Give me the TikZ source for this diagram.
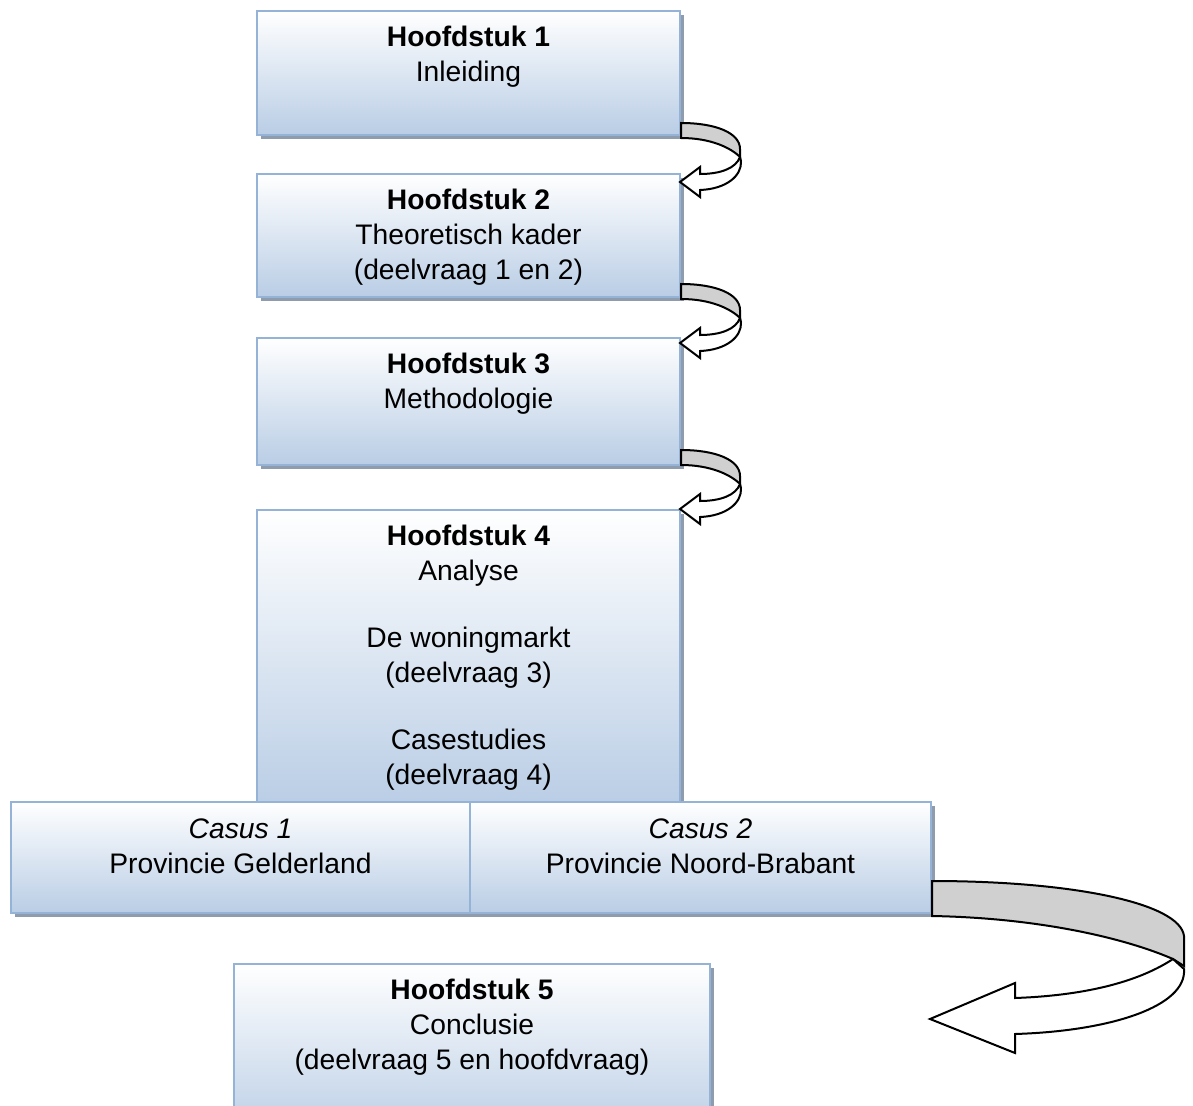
\documentclass[tikz,border=0pt]{standalone}
\usepackage{fontspec}
\setmainfont{Liberation Sans}
\usepackage{tikz}
\usetikzlibrary{shadows}

\definecolor{boxblue}{HTML}{B9CDE5}
\definecolor{boxedge}{HTML}{95B3D7}
\definecolor{boxshadow}{HTML}{8E9CAE}
\definecolor{bandgray}{HTML}{D0D0D0}

\tikzset{
  chapter/.style={rectangle, draw=boxedge, line width=0.8pt,
      top color=white, bottom color=boxblue,
      drop shadow={shadow xshift=1.6pt, shadow yshift=-1.6pt,
                   fill=boxshadow, opacity=1}},
  chaptext/.style={anchor=north, inner sep=0pt, align=center,
      font=\fontsize{11.3pt}{14pt}\selectfont},
  turnband/.style={draw=black, line width=0.8pt, fill=bandgray},
  turnhead/.style={draw=black, line width=0.8pt, fill=white, line join=miter},
  smallturn/.pic={
    \draw[turnband] (0,0) .. controls (35,0) and (59,10) .. (59,26)
        -- (59,34) .. controls (50,25) and (30,15) .. (0,15) -- cycle;
    \draw[turnhead] (59,34) .. controls (55,45) and (40,51) .. (19,51)
        -- (19,44) -- (-1,59) -- (19,74) -- (19,67)
        .. controls (45,66) and (61,53) .. (60,38) -- cycle;
  },
  bigturn/.pic={
    \draw[turnband] (0,0) .. controls (140,0) and (248,22) .. (252,55)
        -- (252,85) -- (241,78) .. controls (195,58) and (110,37) .. (0,35) -- cycle;
    \draw[turnhead] (241,78) .. controls (200,105) and (140,115) .. (83,117)
        -- (83,102) -- (-2,138) -- (83,172) -- (83,153)
        .. controls (180,150) and (255,125) .. (252,88) -- cycle;
  }
}

\begin{document}
\begin{tikzpicture}[x=0.4pt, y=-0.4pt]
\def\px{0.4pt}
\useasboundingbox (0,0) rectangle (1193,1106);

% chapter boxes
\node[chapter, minimum width=423*\px, minimum height=124*\px] (h1) at (468.5,73) {};
\node[chaptext] (h1t) at ([yshift=-16*\px]h1.north) {\textbf{Hoofdstuk 1}\\Inleiding};

\node[chapter, minimum width=423*\px, minimum height=123*\px] (h2) at (468.5,235.5) {};
\node[chaptext] (h2t) at ([yshift=-16*\px]h2.north) {\textbf{Hoofdstuk 2}\\Theoretisch kader\\(deelvraag 1 en 2)};

\node[chapter, minimum width=423*\px, minimum height=127*\px] (h3) at (468.5,401.5) {};
\node[chaptext] (h3t) at ([yshift=-16*\px]h3.north) {\textbf{Hoofdstuk 3}\\Methodologie};

\node[chapter, minimum width=423*\px, minimum height=296*\px] (h4) at (468.5,658) {};
\node[chaptext] (h4t) at ([yshift=-16*\px]h4.north) {\textbf{Hoofdstuk 4}\\Analyse\\[12.8pt]De woningmarkt\\(deelvraag 3)\\[12.8pt]Casestudies\\(deelvraag 4)};

% the two cases
\node[chapter, minimum width=459*\px, minimum height=111*\px] (c1) at (240.5,857.5) {};
\node[chaptext] (c1t) at ([yshift=-17*\px]c1.north) {\textit{Casus 1}\\Provincie Gelderland};

\node[chapter, minimum width=461*\px, minimum height=111*\px] (c2) at (700.5,857.5) {};
\node[chaptext] (c2t) at ([yshift=-17*\px]c2.north) {\textit{Casus 2}\\Provincie Noord-Brabant};

\node[chapter, minimum width=476*\px, minimum height=176*\px] (h5) at (472,1052) {};
\node[chaptext] (h5t) at ([yshift=-16*\px]h5.north) {\textbf{Hoofdstuk 5}\\Conclusie\\(deelvraag 5 en hoofdvraag)};

% turning arrows
\pic at ([yshift=13*\px]h1.south east) {smallturn};
\pic at ([yshift=14*\px]h2.south east) {smallturn};
\pic at ([yshift=16*\px]h3.south east) {smallturn};
\pic at ([yshift=33*\px]c2.south east) {bigturn};
\end{tikzpicture}
\end{document}
